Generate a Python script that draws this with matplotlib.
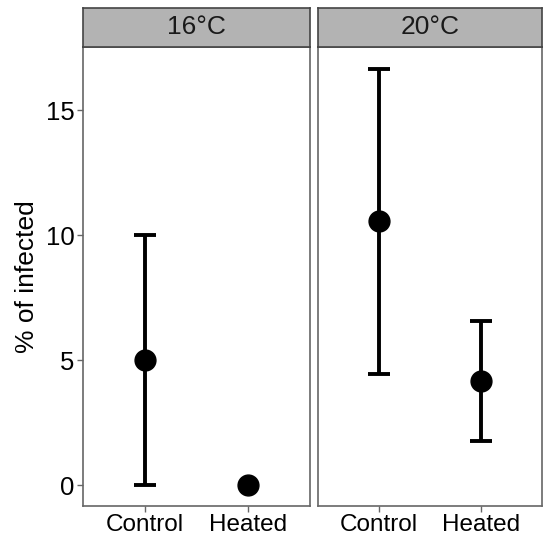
import numpy as np
import matplotlib
matplotlib.use("Agg")
import matplotlib.pyplot as plt

plt.rcParams['font.family'] = ['Liberation Sans', 'DejaVu Sans']

# data
panels = ["16°C", "20°C"]
groups = ["Control", "Heated"]
means = [[5.0, 0.0], [10.57, 4.15]]
lower = [[0.0, 0.0], [4.45, 1.75]]
upper = [[10.0, 0.0], [16.65, 6.55]]

W, H = 544, 535
fig = plt.figure(figsize=(W / 100, H / 100), dpi=100)

# pixel boxes: left, right
px_lr = [(83, 309.5), (317.5, 542)]
top_strip, top_panel, bottom = 8, 47, 506

border = "#666666"
y_lo, y_hi = -0.835, 17.535

for p in range(2):
    l, r = px_lr[p]
    ax = fig.add_axes([l / W, 1 - bottom / H, (r - l) / W, (bottom - top_panel) / H])
    x = np.arange(1, len(groups) + 1)
    m = np.array(means[p])
    lo = np.array(lower[p])
    hi = np.array(upper[p])
    has_err = hi > lo
    ax.errorbar(x[has_err], m[has_err], yerr=[m[has_err] - lo[has_err], hi[has_err] - m[has_err]],
                fmt='none', ecolor='black', elinewidth=2.8, capsize=8, capthick=2.8, zorder=2)
    ax.plot(x, m, 'o', color='black', markersize=15, zorder=3)
    ax.set_xlim(0.4, 2.6)
    ax.set_ylim(y_lo, y_hi)
    ax.set_xticks(x)
    ax.set_xticklabels(groups, fontsize=17.5)
    ax.set_yticks([0, 5, 10, 15])
    ax.tick_params(colors=border, labelcolor='black', length=4, width=1, pad=2)
    if p == 0:
        ax.set_yticklabels(['0', '5', '10', '15'], fontsize=18.5)
        ax.set_ylabel("% of infected", fontsize=19, labelpad=5)
    else:
        ax.set_yticklabels([])
        ax.tick_params(axis='y', length=0)
    for s in ax.spines.values():
        s.set_color(border)
        s.set_linewidth(1.2)

    # facet strip
    sax = fig.add_axes([l / W, 1 - top_panel / H, (r - l) / W, (top_panel - top_strip) / H])
    sax.set_facecolor("#B3B3B3")
    sax.set_xticks([])
    sax.set_yticks([])
    for s in sax.spines.values():
        s.set_color("#444444")
        s.set_linewidth(1.2)
    sax.text(0.5, 0.5, panels[p], transform=sax.transAxes, ha='center', va='center',
             fontsize=19, color='#1A1A1A')

plt.savefig("out.png", dpi=100)
